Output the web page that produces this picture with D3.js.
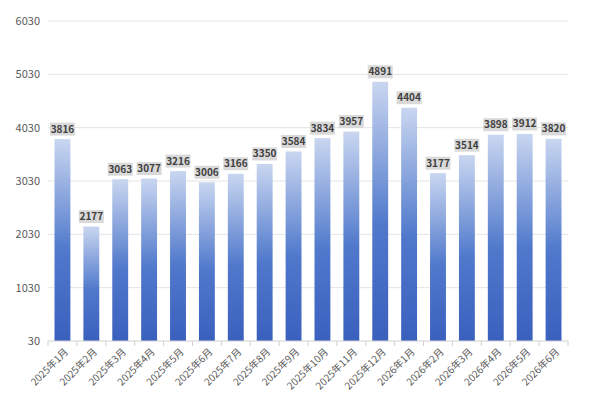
<!DOCTYPE html>
<html>
<head>
<meta charset="utf-8">
<style>
  body { margin: 0; background: #fff; }
  svg { display: block; font-family: "Noto Sans CJK SC", "Liberation Sans", sans-serif; }
</style>
</head>
<body>
<script src="https://d3js.org/d3.v7.min.js"></script>
<script>
const months = ['2025年1月','2025年2月','2025年3月','2025年4月','2025年5月','2025年6月',
  '2025年7月','2025年8月','2025年9月','2025年10月','2025年11月','2025年12月',
  '2026年1月','2026年2月','2026年3月','2026年4月','2026年5月','2026年6月'];
const values = [3816, 2177, 3063, 3077, 3216, 3006, 3166, 3350, 3584, 3834, 3957, 4891, 4404, 3177, 3514, 3898, 3912, 3820];
const yTicks = [30, 1030, 2030, 3030, 4030, 5030, 6030];

const width = 600, height = 400;
const margin = { top: 21, right: 32, bottom: 59, left: 48 };

const svg = d3.select('body').append('svg')
  .attr('width', width)
  .attr('height', height);

const defs = svg.append('defs');
const grad = defs.append('linearGradient')
  .attr('id', 'barGrad')
  .attr('x1', 0).attr('y1', 0).attr('x2', 0).attr('y2', 1);
grad.append('stop').attr('offset', '0%').attr('stop-color', '#c9d6f0');
grad.append('stop').attr('offset', '55%').attr('stop-color', '#5079cc');
grad.append('stop').attr('offset', '100%').attr('stop-color', '#3a60bd');

const x = d3.scaleBand()
  .domain(months)
  .range([margin.left, width - margin.right])
  .paddingInner(0.45)
  .paddingOuter(0.225);

const y = d3.scaleLinear()
  .domain([30, 6030])
  .range([height - margin.bottom, margin.top]);

// grid
svg.append('g')
  .selectAll('line')
  .data(yTicks.slice(1))
  .join('line')
  .attr('x1', margin.left)
  .attr('x2', width - margin.right)
  .attr('y1', d => y(d))
  .attr('y2', d => y(d))
  .attr('stroke', '#e4e4e4');

// y labels
svg.append('g')
  .selectAll('text')
  .data(yTicks)
  .join('text')
  .attr('x', 40)
  .attr('y', d => y(d))
  .attr('dy', '0.35em')
  .attr('text-anchor', 'end')
  .attr('fill', '#595959')
  .style('font-size', '11px')
  .text(d => d);

// bars
svg.append('g')
  .selectAll('rect')
  .data(values)
  .join('rect')
  .attr('x', (d, i) => x(months[i]))
  .attr('width', x.bandwidth())
  .attr('y', d => y(d))
  .attr('height', d => y(30) - y(d))
  .attr('fill', 'url(#barGrad)');

// x axis
const xAxis = svg.append('g')
  .attr('transform', `translate(0,${y(30)})`);
xAxis.append('line')
  .attr('x1', margin.left).attr('x2', width - margin.right)
  .attr('stroke', '#d0d0d0');
const step = x.step();
xAxis.selectAll('.tick')
  .data(d3.range(months.length + 1))
  .join('line')
  .attr('class', 'tick')
  .attr('x1', i => margin.left + i * step)
  .attr('x2', i => margin.left + i * step)
  .attr('y1', 0).attr('y2', 5)
  .attr('stroke', '#d0d0d0');
xAxis.selectAll('text')
  .data(months)
  .join('text')
  .attr('transform', d => `translate(${x(d) + x.bandwidth() / 2 + 4},${9}) rotate(-45)`)
  .attr('text-anchor', 'end')
  .attr('dy', '0.35em')
  .attr('fill', '#595959')
  .style('font-size', '10px')
  .text(d => d);

// value labels
const lab = svg.append('g')
  .selectAll('g')
  .data(values)
  .join('g')
  .attr('transform', (d, i) => `translate(${x(months[i]) + x.bandwidth() / 2},${y(d) - 10})`);
lab.append('rect')
  .attr('x', -12.5).attr('y', -6.5)
  .attr('width', 25).attr('height', 13)
  .attr('fill', '#d9d9d9');
lab.append('text')
  .attr('text-anchor', 'middle')
  .attr('dy', '0.35em')
  .attr('fill', '#404040')
  .style('font-size', '10px')
  .style('font-weight', 'bold')
  .text(d => d);
</script>
</body>
</html>
